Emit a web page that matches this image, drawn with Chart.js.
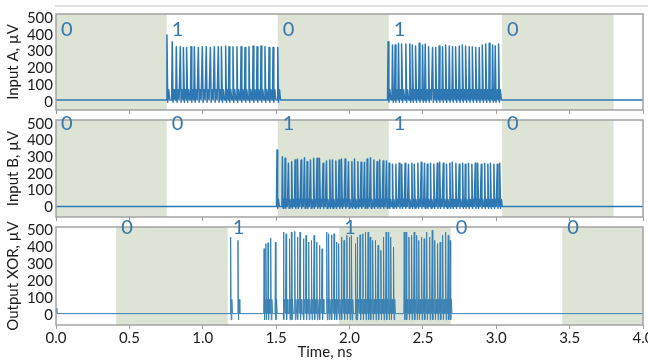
<!DOCTYPE html>
<html><head><meta charset="utf-8">
<script src="https://cdn.jsdelivr.net/npm/chart.js@4.4.1/dist/chart.umd.min.js"></script>
<style>
html,body{margin:0;padding:0;background:#fff;width:648px;height:363px;overflow:hidden;position:relative}
canvas{position:absolute;left:0}
</style></head><body>
<canvas id="cA" style="top:0px" width="648" height="120"></canvas>
<canvas id="cB" style="top:106px" width="648" height="121"></canvas>
<canvas id="cX" style="top:213px" width="648" height="150"></canvas>
<script>
// ---------- data ----------
const xTicks = [0.0, 0.5, 1.0, 1.5, 2.0, 2.5, 3.0, 3.5, 4.0];
const yTicks = [0, 100, 200, 300, 400, 500];

// logic-state intervals (ns) and their labels
const boundsIn = [0, 0.755, 1.511, 2.268, 3.04, 3.80, 4.0];
const shadedIn = [true, false, true, false, true, false];
const statesA = ['0', '1', '0', '1', '0', ''];
const statesB = ['0', '0', '1', '1', '0', ''];
const boundsX = [0, 0.41, 1.17, 1.93, 2.69, 3.45, 4.0];
const shadedX = [false, true, false, true, false, true];
const statesX = ['', '0', '1', '1', '0', '0'];

// Input A spikes (time ns, peak µV)
const spikeTimesA = [0.756,0.792,0.820,0.847,0.870,0.892,0.920,0.943,0.970,0.997,1.024,1.052,1.079,1.106,1.129,1.156,1.179,1.206,1.233,1.261,1.288,1.315,1.343,1.370,1.397,1.424,1.452,1.479,1.511,
  2.263,2.293,2.311,2.334,2.357,2.384,2.411,2.430,2.452,2.475,2.498,2.516,2.539,2.566,2.589,2.611,2.634,2.657,2.680,2.702,2.725,2.748,2.771,2.793,2.816,2.839,2.862,2.884,2.907,2.930,2.952,2.975,2.993,3.016];
const spikePeaksA = [399,359,329,329,325,325,329,329,325,329,329,325,329,329,329,333,329,329,329,329,325,329,333,329,333,329,325,325,325,
  359,339,339,349,345,345,345,339,333,349,339,345,329,325,325,333,329,339,333,329,329,333,339,333,329,329,325,325,339,345,349,339,333,345];
const baseA = 12, troughA = -2, bumpA = 72;

// Input B spikes
const spikeTimesB = [1.506,1.543,1.561,1.584,1.606,1.629,1.647,1.670,1.693,1.711,1.734,1.756,1.779,1.797,1.820,1.843,1.866,1.884,1.907,1.929,1.947,1.970,1.993,2.016,2.034,2.057,2.079,2.102,2.120,2.143,2.166,2.188,2.207,2.229,2.252,
  2.270,2.293,2.316,2.339,2.357,2.379,2.402,2.425,2.443,2.466,2.489,2.511,2.530,2.552,2.575,2.598,2.616,2.639,2.661,2.684,2.702,2.725,2.748,2.771,2.789,2.811,2.834,2.857,2.875,2.898,2.921,2.943,2.962,2.984,3.007,3.025];
const spikePeaksB = [343,303,293,263,273,283,289,283,297,273,283,293,293,293,263,277,283,283,277,283,289,289,273,273,289,273,269,269,289,297,283,273,283,277,277,
  263,257,257,263,257,263,257,263,257,263,269,263,257,263,257,263,269,263,257,263,269,263,257,263,257,263,257,263,263,257,263,257,263,257,257,263];
const baseB = 3, troughB = -8, bumpB = 45;

// Output XOR spikes
const leadTimesX = [0, 0.006];
const leadValuesX = [40, 8];
const spikeTimesX = [1.190,1.240,1.418,1.431,1.445,1.463,1.495,1.550,1.568,1.591,1.604,1.627,1.645,1.663,1.686,1.704,1.722,1.741,1.759,1.777,1.795,1.813,
  1.845,1.859,1.877,1.895,1.911,1.927,1.945,1.963,1.982,2.000,2.014,2.041,2.054,2.072,2.091,2.109,2.127,2.141,2.159,2.177,2.195,2.214,2.232,2.250,2.268,2.282,2.300,
  2.373,2.386,2.405,2.423,2.441,2.459,2.473,2.491,2.509,2.527,2.546,2.564,2.582,2.600,2.618,2.636,2.655,2.673,2.686];
const spikePeaksX = [459,439,390,420,425,453,429,488,478,449,488,492,459,488,449,469,429,439,469,429,410,390,
  488,478,472,478,429,420,459,439,469,459,469,420,459,472,478,488,488,459,439,439,410,380,459,488,488,459,400,
  488,488,459,469,488,469,439,459,449,488,459,498,439,420,429,469,488,469,439];
const baseX = 8, troughX = -28, bumpX = 92;

// ---------- trace construction ----------
function trace(base, trough, bump, times, peaks, step, lead) {
  const pts = [];
  if (lead) lead.t.forEach((t, i) => pts.push({x: t, y: lead.v[i]}));
  else pts.push({x: 0, y: base});
  times.forEach((t, i) => {
    pts.push({x: t - 0.15 * step, y: base});
    pts.push({x: t, y: peaks[i]});
    pts.push({x: t + 0.2 * step, y: trough});
    pts.push({x: t + 0.45 * step, y: bump});
    pts.push({x: t + 0.7 * step, y: base});
  });
  pts.push({x: 4, y: base});
  return pts;
}

const FONT = 'Lato, "Open Sans", sans-serif';
const TXT = '#1c1c1c';
const LABEL_BLUE = '#3677ad';
const SHADE = '#dde4d6';
const FRAME = '#a3a3a3';

function panelPlugin(cfg) {
  return {
    id: 'panel' + cfg.id,
    beforeDatasetsDraw(chart) {
      const {ctx, chartArea: a, scales: {x}} = chart;
      ctx.save();
      ctx.fillStyle = SHADE;
      for (let i = 0; i < cfg.bounds.length - 1; i++) {
        if (!cfg.shaded[i]) continue;
        const x0 = x.getPixelForValue(cfg.bounds[i]);
        const x1 = x.getPixelForValue(cfg.bounds[i + 1]);
        ctx.fillRect(x0, a.top, x1 - x0, a.bottom - a.top);
      }
      ctx.restore();
    },
    afterDatasetsDraw(chart) {
      const {ctx, chartArea: a, scales: {x}} = chart;
      ctx.save();
      ctx.strokeStyle = FRAME;
      ctx.lineWidth = 1.5;
      ctx.strokeRect(a.left, a.top, a.right - a.left, a.bottom - a.top);
      if (cfg.topLine) {
        ctx.strokeStyle = '#d4d4d4';
        ctx.beginPath(); ctx.moveTo(a.left - 1, 6); ctx.lineTo(chart.width, 6); ctx.stroke();
      }
      ctx.fillStyle = LABEL_BLUE;
      ctx.font = '20px ' + FONT;
      ctx.textAlign = 'left';
      ctx.textBaseline = 'middle';
      for (let i = 0; i < cfg.states.length; i++) {
        if (!cfg.states[i]) continue;
        ctx.fillText(cfg.states[i], x.getPixelForValue(cfg.bounds[i]) + 5, a.top + cfg.labelDy);
      }
      if (cfg.xTitle) {
        ctx.fillStyle = TXT;
        ctx.font = '15px ' + FONT;
        ctx.textAlign = 'center';
        ctx.fillText(cfg.xTitle, a.left + 0.458 * (a.right - a.left), chart.height - 11);
      }
      ctx.restore();
    }
  };
}

function makeChart(id, cfg) {
  const bottomAxis = !!cfg.xTitle;
  return new Chart(document.getElementById(id), {
    type: 'line',
    data: { datasets: [{ data: cfg.data, borderColor: cfg.color, borderWidth: cfg.lw, pointRadius: 0, tension: 0, borderJoinStyle: 'round', fill: false }] },
    options: {
      responsive: false, animation: false, parsing: false, normalized: true,
      layout: { padding: { top: 14, right: 5, left: 0, bottom: 0 } },
      plugins: { legend: { display: false }, tooltip: { enabled: false } },
      scales: {
        x: {
          type: 'linear', min: 0, max: 4,
          afterBuildTicks: s => { s.ticks = xTicks.map(v => ({ value: v })); },
          afterFit: s => { s.height = cfg.xh; s.paddingLeft = 0; s.paddingRight = 0; },
          ticks: { display: bottomAxis, autoSkip: false, font: { family: FONT, size: 15 }, color: TXT, padding: 0, maxRotation: 0,
                   callback: v => Number(v).toFixed(1) },
          grid: { drawOnChartArea: false, drawTicks: true, tickLength: 4, color: '#9a9a9a' },
          border: { display: false }
        },
        y: {
          type: 'linear', min: cfg.ymin, max: cfg.ymax,
          afterBuildTicks: s => { s.ticks = yTicks.map(v => ({ value: v })); },
          afterFit: s => { s.width = 56; s.paddingTop = 0; s.paddingBottom = 0; },
          ticks: { autoSkip: false, font: { family: FONT, size: 15 }, color: TXT, padding: 3 },
          grid: { display: false, drawTicks: false },
          border: { display: false },
          title: { display: true, text: cfg.yTitle, font: { family: FONT, size: 15 }, color: TXT, padding: { top: 4, bottom: 0 } }
        }
      }
    },
    plugins: [panelPlugin(cfg)]
  });
}

makeChart('cA', {
  id: 'A', data: trace(baseA, troughA, bumpA, spikeTimesA, spikePeaksA, 0.027),
  color: '#2d78b2', lw: 1.5, ymin: -48, ymax: 524, xh: 10, yTitle: 'Input A, µV',
  bounds: boundsIn, shaded: shadedIn, states: statesA, labelDy: 16, topLine: true
});
makeChart('cB', {
  id: 'B', data: trace(baseB, troughB, bumpB, spikeTimesB, spikePeaksB, 0.0225),
  color: '#2d78b2', lw: 1.5, ymin: -60, ymax: 524, xh: 10, yTitle: 'Input B, µV',
  bounds: boundsIn, shaded: shadedIn, states: statesB, labelDy: 4
});
makeChart('cX', {
  id: 'X', data: trace(baseX, troughX, bumpX, spikeTimesX, spikePeaksX, 0.018, { t: leadTimesX, v: leadValuesX }),
  color: '#3a82b4', lw: 1, ymin: -59, ymax: 518, xh: 38, yTitle: 'Output XOR, µV',
  bounds: boundsX, shaded: shadedX, states: statesX, labelDy: 1, xTitle: 'Time, ns'
});
</script>
</body></html>
